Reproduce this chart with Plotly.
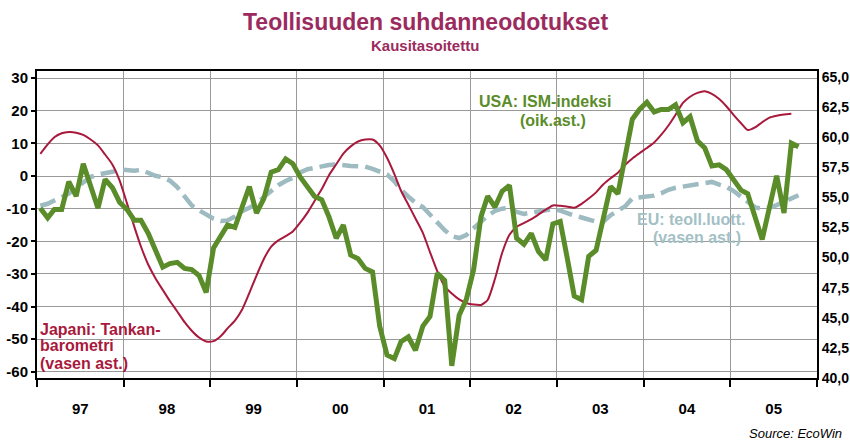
import pandas as pd
import plotly.graph_objects as go

# ---------------- data (monthly, starting Jan 1997) ----------------
START = "1997-01-01"

# USA: ISM index (right axis)
ism = [54.1, 53.3, 54.0, 54.0, 56.3, 55.1, 57.8, 56.0, 54.1, 56.5, 55.8, 54.6,
       54.0, 53.1, 53.1, 52.0, 50.6, 49.2, 49.5, 49.6, 49.1, 49.0, 48.5, 47.1,
       50.8, 51.9, 52.7, 52.5, 54.2, 55.9, 53.7, 54.9, 57.1, 57.3, 58.2, 57.8,
       56.7, 55.9, 55.1, 54.8, 53.4, 51.6, 52.7, 50.2, 49.9, 49.1, 48.8, 44.3,
       41.9, 41.6, 43.0, 43.4, 42.3, 44.3, 45.1, 48.7, 48.1, 41.0, 45.2, 46.5,
       49.0, 53.4, 55.1, 54.2, 55.5, 56.0, 51.6, 51.1, 52.0, 50.5, 49.8, 52.8,
       53.0, 49.8, 46.8, 46.5, 50.1, 50.6, 53.0, 55.9, 55.3, 58.4, 61.5, 62.3,
       62.9, 62.1, 62.3, 62.3, 62.7, 61.2, 61.7, 59.7, 59.1, 57.6, 57.7, 57.3,
       56.4, 55.6, 55.3, 53.4, 51.5, 54.2, 56.8, 53.7, 59.5, 59.2]

# EU: industrial confidence (left axis)
eu = [-9.1, -8.5, -7.5, -6.4, -5.4, -3.6, -1.8, -0.3, 0.5, 0.8, 1.3, 2.0,
      1.8, 1.6, 1.9, 1.0, 0.1, -0.4, -1.4, -3.4, -6.1, -9.0, -10.5, -11.8,
      -13.1, -13.8, -13.6, -12.4, -10.8, -9.7, -8.6, -6.4, -4.4, -2.8, -1.5, -0.6,
      1.1, 2.1, 2.5, 3.0, 3.4, 3.6, 3.2, 3.1, 3.0, 2.9, 2.2, 1.4,
      0.5, -1.6, -4.2, -6.3, -8.2, -9.5, -11.6, -14.2, -16.6, -18.4, -19.0, -18.1,
      -16.0, -13.9, -12.2, -10.7, -10.0, -9.8, -11.0, -11.6, -11.2, -10.6, -10.2, -10.1,
      -10.6, -11.5, -12.1, -12.7, -13.4, -14.0, -14.0, -12.0, -10.6, -9.3, -6.8, -6.5,
      -6.4, -6.0, -5.3, -4.2, -3.6, -3.2, -2.8, -2.4, -2.0, -1.8, -2.6, -3.3,
      -4.6, -6.3, -8.1, -9.6, -10.0, -9.7, -8.9, -7.9, -6.7, -5.9]

# Japan: Tankan (left axis)
tankan = [6.8, 9.7, 11.9, 13.1, 13.5, 13.3, 12.6, 11.2, 9.4, 6.6, 3.5, -1.3,
          -8.3, -15.5, -21.6, -27.2, -31.3, -34.9, -38.3, -41.5, -44.8, -47.4, -49.5, -50.7,
          -50.6, -49.0, -46.7, -44.3, -41.0, -35.8, -30.5, -25.4, -21.6, -19.7, -18.4, -17.0,
          -14.3, -11.2, -7.7, -4.0, 0.2, 3.6, 6.9, 9.1, 10.6, 11.2, 11.2, 9.4,
          5.6, 0.6, -4.5, -8.8, -13.0, -17.4, -23.3, -29.2, -33.8, -36.0, -37.8, -38.9,
          -39.4, -39.5, -38.0, -31.5, -23.6, -18.0, -15.6, -14.4, -13.2, -11.8, -10.3, -9.0,
          -9.1, -9.4, -9.7, -8.5, -6.9, -5.0, -2.6, -0.7, 1.0, 3.4, 5.4, 7.0,
          8.6, 10.3, 12.6, 15.5, 18.8, 22.4, 24.3, 25.5, 26.0, 25.2, 23.6, 21.4,
          18.7, 16.2, 14.1, 14.9, 16.5, 17.9, 18.5, 18.9, 19.1]

left_ticks = [-60, -50, -40, -30, -20, -10, 0, 10, 20, 30]
left_labels = [str(v) for v in left_ticks]
right_ticks = [40.0, 42.5, 45.0, 47.5, 50.0, 52.5, 55.0, 57.5, 60.0, 62.5, 65.0]

TITLE = "Teollisuuden suhdanneodotukset"
SUBTITLE = "Kausitasoitettu"


def month_dates(n):
    return pd.date_range(START, periods=n, freq="MS") + pd.Timedelta(days=14)


# ---------------- style ----------------
FONT = "Liberation Sans, Arial, sans-serif"
C_TITLE = "#9b2b5e"
C_RED = "#a8193c"
C_GREEN = "#5b8c2a"
C_EU = "#9dbbc0"
C_EU_TXT = "#a3c0c5"
GRID = "#9a9a9a"

W, H = 850, 441
L, R, T, B = 37, 817, 71, 378


def px(x):
    return (x - L) / (R - L)


def py(y):
    return (B - y) / (B - T)


fig = go.Figure()

fig.add_trace(go.Scatter(x=month_dates(len(eu)), y=eu, mode="lines",
                         line=dict(color=C_EU, width=4.5, dash="16px,7px"),
                         yaxis="y", hoverinfo="skip"))
fig.add_trace(go.Scatter(x=month_dates(len(ism)), y=ism, mode="lines",
                         line=dict(color=C_GREEN, width=5),
                         yaxis="y2", hoverinfo="skip"))
fig.add_trace(go.Scatter(x=month_dates(len(tankan)), y=tankan, mode="lines",
                         line=dict(color=C_RED, width=2, shape="spline", smoothing=0.6),
                         yaxis="y", hoverinfo="skip"))

annots = [
    dict(text="<b>" + TITLE + "</b>", x=px(425), y=py(22), size=23, color=C_TITLE),
    dict(text="<b>" + SUBTITLE + "</b>", x=px(425), y=py(46), size=15, color=C_TITLE),
    dict(text="<b>USA: ISM-indeksi</b>", x=px(545), y=py(101), size=16, color=C_GREEN),
    dict(text="<b>(oik.ast.)</b>", x=px(553), y=py(121), size=16, color=C_GREEN),
    dict(text="<b>EU: teoll.luott.</b>", x=px(691), y=py(219), size=16, color=C_EU_TXT),
    dict(text="<b>(vasen ast.)</b>", x=px(697), y=py(237), size=16, color=C_EU_TXT),
]
for a in annots:
    fig.add_annotation(text=a["text"], x=a["x"], y=a["y"], xref="paper", yref="paper",
                       xanchor="center", yanchor="middle", showarrow=False,
                       font=dict(family=FONT, size=a["size"], color=a["color"]))

for txt, yy in [("Japani: Tankan-", 329), ("barometri", 345), ("(vasen ast.)", 363)]:
    fig.add_annotation(text="<b>" + txt + "</b>", x=px(38), y=py(yy), xref="paper", yref="paper",
                       xanchor="left", yanchor="middle", showarrow=False,
                       font=dict(family=FONT, size=16, color=C_RED))

fig.add_annotation(text="<i>Source: EcoWin</i>", x=px(844), y=py(433), xref="paper", yref="paper",
                   xanchor="right", yanchor="middle", showarrow=False,
                   font=dict(family=FONT, size=13, color="#000000"))

fig.update_layout(
    width=W, height=H,
    margin=dict(l=L, r=W - R, t=T, b=H - B, pad=0, autoexpand=False),
    paper_bgcolor="white", plot_bgcolor="white",
    showlegend=False,
    separators=",.",
    font=dict(family=FONT, size=15, color="black"),
    xaxis=dict(
        type="date",
        range=["1997-01-01", "2006-01-01"],
        tick0="1997-01-01", dtick="M12",
        ticklabelmode="period", tickformat="%y",
        ticks="outside", ticklen=7, tickwidth=2, tickcolor="black",
        showgrid=True, gridcolor=GRID, gridwidth=1,
        showline=True, linecolor="black", linewidth=2, mirror=True,
        tickfont=dict(family=FONT, size=15, color="black", weight="bold"),
        ticklabelstandoff=9, automargin=False,
        zeroline=False,
    ),
    yaxis=dict(
        range=[-61.9, 32.2],
        tickvals=left_ticks, ticktext=left_labels,
        ticks="outside", ticklen=4, tickwidth=2, tickcolor="black",
        showgrid=True, gridcolor=GRID, gridwidth=1,
        showline=True, linecolor="black", linewidth=2,
        zeroline=False, automargin=False,
        tickfont=dict(family=FONT, size=15, color="black", weight="bold"),
    ),
    yaxis2=dict(
        overlaying="y", side="right",
        range=[39.99, 65.5],
        tickvals=right_ticks, tickformat=".1f",
        ticks="", showgrid=False,
        showline=True, linecolor="black", linewidth=2,
        zeroline=False, automargin=False,
        ticklabelstandoff=0,
        tickfont=dict(family=FONT, size=14, color="black", weight="bold"),
    ),
)

fig.write_html("out.html",
               config={"displayModeBar": False},
               post_script="document.body.style.margin='0';document.body.style.padding='0';")
